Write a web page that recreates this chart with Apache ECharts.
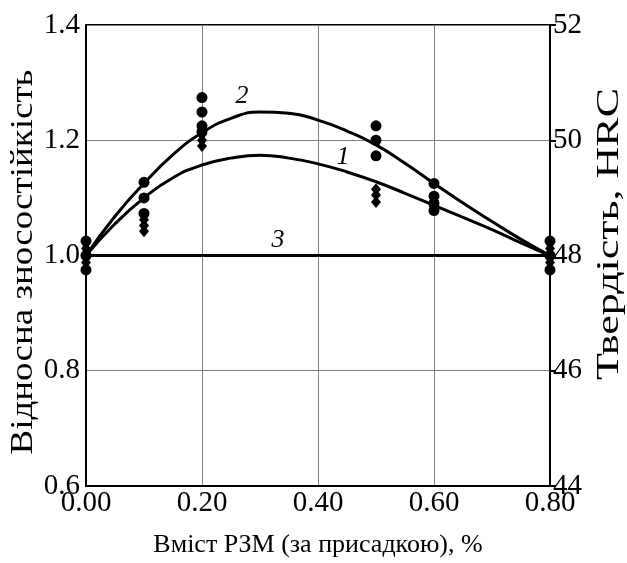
<!DOCTYPE html>
<html><head><meta charset="utf-8">
<script src="https://cdn.jsdelivr.net/npm/echarts@6/dist/echarts.min.js"></script>
<style>html,body{margin:0;padding:0;background:#fff}#c{width:627px;height:563px}</style>
</head><body><div id="c"></div>
<script>
const curveX = [0, 0.05, 0.1, 0.15, 0.2, 0.25, 0.3, 0.35, 0.4, 0.45, 0.5, 0.55, 0.6, 0.65, 0.7, 0.75, 0.8];
const curve1 = [1.0, 1.055, 1.10, 1.135, 1.157, 1.169, 1.174, 1.169, 1.159, 1.145, 1.128, 1.108, 1.087, 1.066, 1.045, 1.022, 1.0];
const curve2 = [1.0, 1.068, 1.125, 1.175, 1.213, 1.238, 1.249, 1.247, 1.235, 1.216, 1.192, 1.16, 1.125, 1.091, 1.059, 1.028, 1.0];
const line3X = [0, 0.8];
const line3 = [1.0, 1.0];
const circX = [0,0,0, 0.1,0.1,0.1, 0.2,0.2,0.2,0.2, 0.5,0.5,0.5, 0.6,0.6,0.6,0.6, 0.8,0.8,0.8];
const circY = [1.025,1.0,0.975, 1.127,1.10,1.073, 1.274,1.249,1.225,1.215, 1.225,1.20,1.173, 1.125,1.103,1.09,1.078, 1.025,1.0,0.975];
const diaX = [0,0, 0.1,0.1,0.1, 0.2,0.2,0.2, 0.5,0.5,0.5, 0.6,0.6, 0.8,0.8];
const diaY = [1.012,0.988, 1.062,1.052,1.042, 1.21,1.20,1.19, 1.115,1.105,1.093, 1.095,1.085, 1.012,0.988];
const labelNames = ['2', '1', '3'];
const labelX = [0.269, 0.443, 0.331];
const labelY = [1.276, 1.171, 1.027];
const xTitle = 'Вміст РЗМ (за присадкою), %';
const yTitle = 'Відносна зносостійкість';
const y2Title = 'Твердість, HRC';

const zip = (a, b) => a.map((v, i) => [v, b[i]]);
const font = '"Liberation Serif", "Times New Roman", serif';
const ctx = document.createElement('canvas').getContext('2d');
function textW(t, size) { ctx.font = size + 'px "Liberation Serif"'; return ctx.measureText(t).width; }
const leftSize = 31, rightSize = 32;
const sLeft = 385 / textW(yTitle, leftSize);
const sRight = 292 / textW(y2Title, rightSize);

const chart = echarts.init(document.getElementById('c'));
chart.setOption({
  animation: false,
  textStyle: { fontFamily: font },
  grid: { left: 86, right: 77, top: 25, bottom: 73, show: true, borderColor: '#000', borderWidth: 2 },
  xAxis: {
    type: 'value', min: 0, max: 0.8, interval: 0.2,
    name: xTitle, nameLocation: 'middle', nameGap: 46,
    nameTextStyle: { fontSize: 26, color: '#000', fontFamily: font },
    axisLine: { show: true, lineStyle: { color: '#000', width: 2 } },
    axisTick: { show: false },
    axisLabel: { fontSize: 29, color: '#000', fontFamily: font, margin: 3, formatter: v => v.toFixed(2) },
    splitLine: { show: true, lineStyle: { color: '#808080', width: 1 } }
  },
  yAxis: [{
    type: 'value', min: 0.6, max: 1.4, interval: 0.2,
    axisLine: { show: true, lineStyle: { color: '#000', width: 2 } },
    axisTick: { show: false },
    axisLabel: { fontSize: 29, color: '#000', fontFamily: font, margin: 6, formatter: v => v.toFixed(1) },
    splitLine: { show: true, lineStyle: { color: '#808080', width: 1 } }
  }, {
    type: 'value', min: 44, max: 52, interval: 2, position: 'right',
    axisLine: { show: true, lineStyle: { color: '#000', width: 2 } },
    axisTick: { show: true, inside: false, length: 6, lineStyle: { color: '#000', width: 2 } },
    axisLabel: { fontSize: 29, color: '#000', fontFamily: font, margin: 3 },
    splitLine: { show: false }
  }],
  graphic: [
    { type: 'text', x: 24, y: 262, rotation: Math.PI / 2, scaleX: sLeft,
      style: { text: yTitle, fontSize: leftSize, fontFamily: font, fill: '#000', align: 'center', verticalAlign: 'middle' } },
    { type: 'text', x: 610, y: 234, rotation: Math.PI / 2, scaleX: sRight,
      style: { text: y2Title, fontSize: rightSize, fontFamily: font, fill: '#000', align: 'center', verticalAlign: 'middle' } }
  ],
  series: [
    { type: 'line', data: zip(curveX, curve1), smooth: true, showSymbol: false, lineStyle: { color: '#000', width: 3 } },
    { type: 'line', data: zip(curveX, curve2), smooth: true, showSymbol: false, lineStyle: { color: '#000', width: 3 } },
    { type: 'line', data: zip(line3X, line3), showSymbol: false, lineStyle: { color: '#000', width: 3 } },
    { type: 'scatter', data: zip(circX, circY), symbol: 'circle', symbolSize: 11, itemStyle: { color: '#000', opacity: 1 }, z: 5 },
    { type: 'scatter', data: zip(diaX, diaY), symbol: 'diamond', symbolSize: [10, 12], itemStyle: { color: '#000', opacity: 1 }, z: 5 },
    { type: 'scatter', data: labelX.map((x, i) => ({ value: [x, labelY[i]], name: labelNames[i] })), symbolSize: 0,
      itemStyle: { color: '#000', opacity: 1 },
      label: { show: true, position: 'inside', formatter: p => p.name, fontSize: 26, fontStyle: 'italic', color: '#000', opacity: 1, fontFamily: font }, z: 6 }
  ]
});
</script></body></html>
